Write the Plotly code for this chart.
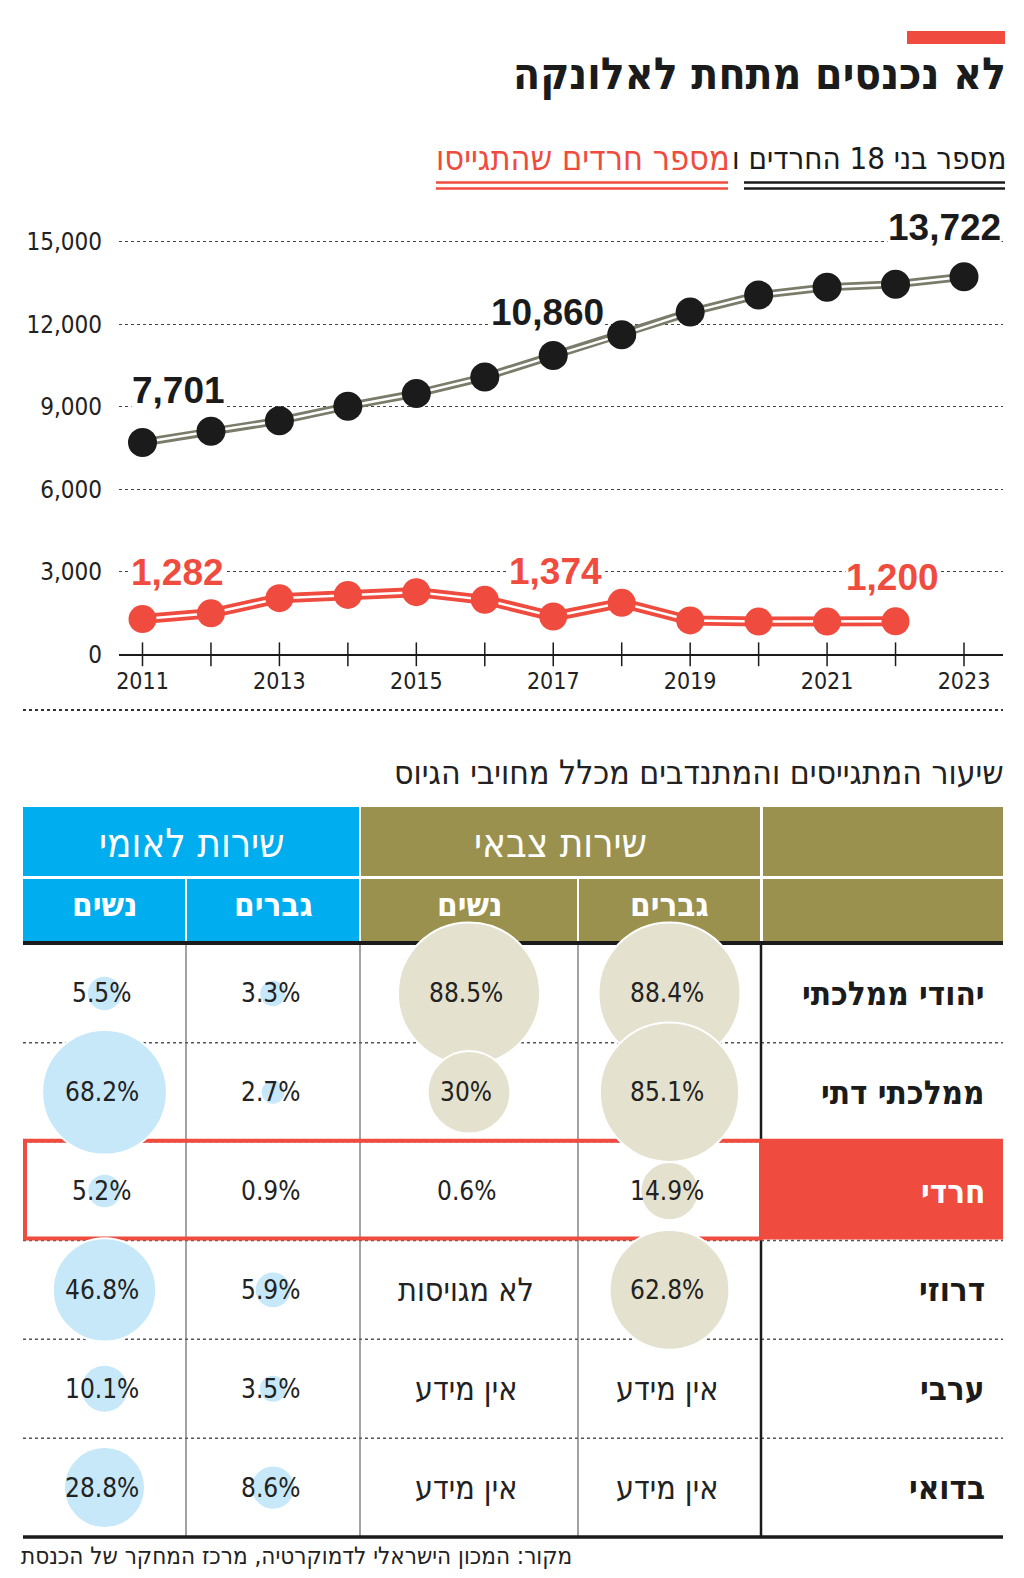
import math
import plotly.graph_objects as go

# ---------------- data ----------------
years = list(range(2011, 2024))
haredi_18 = [7701, 8110, 8490, 9020, 9480, 10080, 10860, 11620, 12440, 13060, 13340, 13450, 13722]
enlist_years = list(range(2011, 2023))
haredi_enlisted = [1282, 1490, 2040, 2160, 2260, 1980, 1374, 1870, 1230, 1190, 1190, 1200]
labeled_18 = [2011, 2017, 2023]
labeled_enl = [2011, 2017, 2022]
y_ticks = [0, 3000, 6000, 9000, 12000, 15000]
x_ticks = [2011, 2013, 2015, 2017, 2019, 2021, 2023]

groups = ["יהודי ממלכתי", "ממלכתי דתי", "חרדי", "דרוזי", "ערבי", "בדואי"]
national_women = [5.5, 68.2, 5.2, 46.8, 10.1, 28.8]
national_men = [3.3, 2.7, 0.9, 5.9, 3.5, 8.6]
military_women = [88.5, 30, 0.6, None, None, None]
military_men = [88.4, 85.1, 14.9, 62.8, None, None]
military_women_note = [None, None, None, "לא מגויסות", "אין מידע", "אין מידע"]
military_men_note = [None, None, None, None, "אין מידע", "אין מידע"]
highlight_group = "חרדי"

title = "לא נכנסים מתחת לאלונקה"
legend_black = "מספר בני 18 החרדים ו"
legend_red = "מספר חרדים שהתגייסו"
table_title = "שיעור המתגייסים והמתנדבים מכלל מחויבי הגיוס"
header_national = "שירות לאומי"
header_military = "שירות צבאי"
sub_women = "נשים"
sub_men = "גברים"
source = "מקור: המכון הישראלי לדמוקרטיה, מרכז המחקר של הכנסת"

# ---------------- styles / layout geometry ----------------
PAGE_W, PAGE_H, BODY_M = 1024, 1578, 8          # page size and default body margin
W, H = PAGE_W - 2 * BODY_M, PAGE_H - 2 * BODY_M  # figure size
RED = "#ef4b3e"
BLACK = "#1b1b1b"
GRAYLINE = "#7b7b6a"
BLUE = "#00aeef"
OLIVE = "#9a914e"
LBLUE = "#c6e8f9"
BEIGE = "#e4e1cf"
TXT = "#222222"
FONT = "DejaVu Sans Condensed"
NUMFONT = "Liberation Sans"

def fx(px):  # page px -> paper fraction
    return (px - BODY_M) / W
def fy(py):
    return 1 - (py - BODY_M) / H

# line-chart geometry (page pixels)
cx0, cx1 = 119, 1003
cy_top, cy_zero = 200, 654.3
px_year = (964 - 142.5) / 12
px_unit = (654.3 - 241.7) / 15000
x_range = [2011 - (142.5 - cx0) / px_year, 2011 + (cx1 - 142.5) / px_year]
y_range = [0, (cy_zero - cy_top) / px_unit]

# table geometry (page pixels)
col_edges = [23, 186, 360, 578, 761, 1003]
body_top, body_bottom = 944, 1537
row_h = (body_bottom - body_top) / len(groups)
row_c = [body_top + row_h * (i + 0.5) for i in range(len(groups))]
col_c = [(col_edges[i] + col_edges[i + 1]) / 2 for i in range(4)]
bubble_k = 15.1  # px of diameter per sqrt(percent)

fig = go.Figure()

# ---- line chart ----
fig.add_trace(go.Scatter(x=years, y=[0] * len(years), mode="markers",
                         marker=dict(symbol="line-ns-open", size=17, color=BLACK,
                                     line=dict(color=BLACK, width=1.5)),
                         cliponaxis=False, hoverinfo="skip", showlegend=False))
fig.add_trace(go.Scatter(x=years, y=haredi_18, mode="lines",
                         line=dict(color=GRAYLINE, width=8), showlegend=False, hoverinfo="skip"))
fig.add_trace(go.Scatter(x=years, y=haredi_18, mode="lines",
                         line=dict(color="white", width=2.5), showlegend=False, hoverinfo="skip"))
fig.add_trace(go.Scatter(x=years, y=haredi_18, mode="markers",
                         marker=dict(color=BLACK, size=29, opacity=1), cliponaxis=False, showlegend=False))
fig.add_trace(go.Scatter(x=enlist_years, y=haredi_enlisted, mode="lines",
                         line=dict(color=RED, width=10), showlegend=False, hoverinfo="skip"))
fig.add_trace(go.Scatter(x=enlist_years, y=haredi_enlisted, mode="lines",
                         line=dict(color="white", width=2.5), showlegend=False, hoverinfo="skip"))
fig.add_trace(go.Scatter(x=enlist_years, y=haredi_enlisted, mode="markers",
                         marker=dict(color=RED, size=28, opacity=1), cliponaxis=False, showlegend=False))

annotations = []
lab_style_18 = {2011: ("left", -12, 52), 2017: ("center", -6, 43), 2023: ("right", 38, 49)}
lab_style_enl = {2011: ("left", -13, 47), 2017: ("center", 2, 45), 2022: ("right", 44, 44)}
for yr in labeled_18:
    v = haredi_18[years.index(yr)]
    a, xs, ys = lab_style_18[yr]
    annotations.append(dict(x=yr, y=v, xref="x", yref="y", text=f"<b>{v:,}</b>", showarrow=False,
                            xanchor=a, yanchor="middle", xshift=xs, yshift=ys, bgcolor="white",
                            borderpad=0, font=dict(family=NUMFONT, size=37, color=BLACK)))
for yr in labeled_enl:
    v = haredi_enlisted[enlist_years.index(yr)]
    a, xs, ys = lab_style_enl[yr]
    annotations.append(dict(x=yr, y=v, xref="x", yref="y", text=f"<b>{v:,}</b>", showarrow=False,
                            xanchor=a, yanchor="middle", xshift=xs, yshift=ys, bgcolor="white",
                            borderpad=0, font=dict(family=NUMFONT, size=37, color=RED)))

# ---- table bubbles ----
cols = [(national_women, LBLUE), (national_men, LBLUE), (military_women, BEIGE), (military_men, BEIGE)]
for ci, (vals, color) in enumerate(cols):
    xs, ys, ds = [], [], []
    for ri, v in enumerate(vals):
        if v is not None and v >= 1:
            xs.append(col_c[ci]); ys.append(row_c[ri]); ds.append(bubble_k * math.sqrt(v))
    fig.add_trace(go.Scatter(x=xs, y=ys, xaxis="x2", yaxis="y2", mode="markers",
                             marker=dict(color=color, size=ds, sizemode="diameter", opacity=1,
                                         line=dict(color="white", width=2)),
                             cliponaxis=False, showlegend=False, hoverinfo="skip"))

# cell texts
notes = [None, None, military_women_note, military_men_note]
for ci, (vals, _) in enumerate(cols):
    for ri, v in enumerate(vals):
        if v is not None:
            t, sz = f"{v:g}%", 26
        else:
            t, sz = notes[ci][ri], 32
        annotations.append(dict(x=col_c[ci], y=row_c[ri], xref="x2", yref="y2", text=t,
                                showarrow=False, xanchor="center", yanchor="middle", xshift=-3,
                                font=dict(family=FONT, size=sz, color=TXT)))
for ri, g in enumerate(groups):
    annotations.append(dict(x=987, y=row_c[ri], xref="x2", yref="y2", text=f"<b>{g}</b>",
                            showarrow=False, xanchor="right", yanchor="middle",
                            font=dict(family=FONT, size=33,
                                      color="white" if g == highlight_group else BLACK)))

# headers
hdr = [
    dict(x=(col_edges[0] + col_edges[2]) / 2, y=843, text=header_national, font=dict(family=FONT, size=40, color="white")),
    dict(x=(col_edges[2] + col_edges[4]) / 2, y=843, text=header_military, font=dict(family=FONT, size=40, color="white")),
    dict(x=col_c[0], y=904, text=f"<b>{sub_women}</b>", font=dict(family=FONT, size=33, color="white")),
    dict(x=col_c[1], y=904, text=f"<b>{sub_men}</b>", font=dict(family=FONT, size=33, color="white")),
    dict(x=col_c[2], y=904, text=f"<b>{sub_women}</b>", font=dict(family=FONT, size=33, color="white")),
    dict(x=col_c[3], y=904, text=f"<b>{sub_men}</b>", font=dict(family=FONT, size=33, color="white")),
]
for a in hdr:
    a.update(xref="x2", yref="y2", showarrow=False, xanchor="center", yanchor="middle")
annotations += hdr

# titles and texts
annotations += [
    dict(x=1008, y=74, xref="x2", yref="y2", text=f"<b>{title}</b>", showarrow=False,
         xanchor="right", yanchor="middle", font=dict(family=FONT, size=44, color=BLACK)),
    dict(x=1008, y=158, xref="x2", yref="y2", text=legend_black, showarrow=False,
         xanchor="right", yanchor="middle", font=dict(family=FONT, size=31, color=BLACK)),
    dict(x=732, y=158, xref="x2", yref="y2", text=legend_red, showarrow=False,
         xanchor="right", yanchor="middle", font=dict(family=FONT, size=34, color=RED)),
    dict(x=1006, y=772, xref="x2", yref="y2", text=table_title, showarrow=False,
         xanchor="right", yanchor="middle", font=dict(family=FONT, size=33.5, color=TXT)),
    dict(x=19, y=1556, xref="x2", yref="y2", text=source, showarrow=False,
         xanchor="left", yanchor="middle", font=dict(family=FONT, size=24, color=TXT)),
]

# ---- shapes (decoration) ----
shapes = []
def rect(x0, y0, x1, y1, fill, line=None, lw=0):
    shapes.append(dict(type="rect", xref="x2", yref="y2", x0=x0, y0=y0, x1=x1, y1=y1,
                       fillcolor=fill, line=dict(color=line or fill, width=lw), layer="below"))
def hline(x0, x1, y, color, w, dash="solid"):
    shapes.append(dict(type="line", xref="x2", yref="y2", x0=x0, x1=x1, y0=y, y1=y,
                       line=dict(color=color, width=w, dash=dash), layer="below"))
def vline(x, y0, y1, color, w):
    shapes.append(dict(type="line", xref="x2", yref="y2", x0=x, x1=x, y0=y0, y1=y1,
                       line=dict(color=color, width=w), layer="below"))

rect(907, 31, 1005, 44, RED)
hline(744, 1005, 182.5, BLACK, 2.5); hline(744, 1005, 188.5, BLACK, 2.5)
hline(436, 728, 182.5, RED, 2.5); hline(436, 728, 188.5, RED, 2.5)
hline(23, 1003, 710, "#333333", 2, "dot")

# table header
rect(col_edges[0], 807, col_edges[2] - 1, 876, BLUE)
rect(col_edges[2] + 1, 807, col_edges[4] - 1, 876, OLIVE)
rect(col_edges[4] + 2, 807, col_edges[5], 876, OLIVE)
for i in range(4):
    rect(col_edges[i] + (1 if i else 0), 879, col_edges[i + 1] - 1, 941, BLUE if i < 2 else OLIVE)
rect(col_edges[4] + 2, 879, col_edges[5], 941, OLIVE)
hline(col_edges[0], col_edges[5], 943, BLACK, 4)

# row separators and column rules
for i in range(1, len(groups)):
    hline(col_edges[0], col_edges[5], body_top + row_h * i, "#555555", 1.5, "dot")
for x in col_edges[1:4]:
    vline(x, 945, body_bottom, "#666666", 1.2)
vline(col_edges[4], 945, body_bottom, BLACK, 2.5)

# highlighted row
hi = groups.index(highlight_group)
rect(col_edges[4], body_top + row_h * hi - 3, col_edges[5], body_top + row_h * (hi + 1) - 1, RED)
shapes.append(dict(type="rect", xref="x2", yref="y2", x0=col_edges[0] + 2, x1=col_edges[4],
                   y0=body_top + row_h * hi - 1, y1=body_top + row_h * (hi + 1) - 2,
                   line=dict(color=RED, width=4), fillcolor="rgba(0,0,0,0)", layer="below"))
hline(col_edges[0], col_edges[5], body_bottom, BLACK, 3.5)

fig.update_layout(
    width=W, height=H, margin=dict(l=0, r=0, t=0, b=0),
    paper_bgcolor="white", plot_bgcolor="rgba(0,0,0,0)",
    showlegend=False, annotations=annotations, shapes=shapes,
    font=dict(family=FONT, color=TXT),
    xaxis=dict(domain=[fx(cx0), fx(cx1)], range=x_range, tickmode="array", tickvals=x_ticks,
               ticktext=[str(t) for t in x_ticks], ticks="", showgrid=False, zeroline=False,
               showline=True, linecolor=BLACK, linewidth=2, anchor="y", automargin=False,
               tickfont=dict(family=FONT, size=23, color=TXT), ticklabelstandoff=5, fixedrange=True),
    yaxis=dict(domain=[fy(cy_zero), fy(cy_top)], range=y_range, tickmode="array",
               tickvals=y_ticks, ticktext=[f"{t:,}" for t in y_ticks], ticks="",
               showgrid=True, gridcolor="#444444", gridwidth=1, griddash="dot",
               zeroline=False, showline=False, anchor="x", automargin=False,
               tickfont=dict(family=FONT, size=24, color=TXT), ticklabelstandoff=16, fixedrange=True),
    xaxis2=dict(domain=[0, 1], range=[BODY_M, BODY_M + W], visible=False, anchor="y2", fixedrange=True),
    yaxis2=dict(domain=[0, 1], range=[BODY_M + H, BODY_M], visible=False, anchor="x2", fixedrange=True),
)

fig.write_html("out.html", config={"displayModeBar": False})
